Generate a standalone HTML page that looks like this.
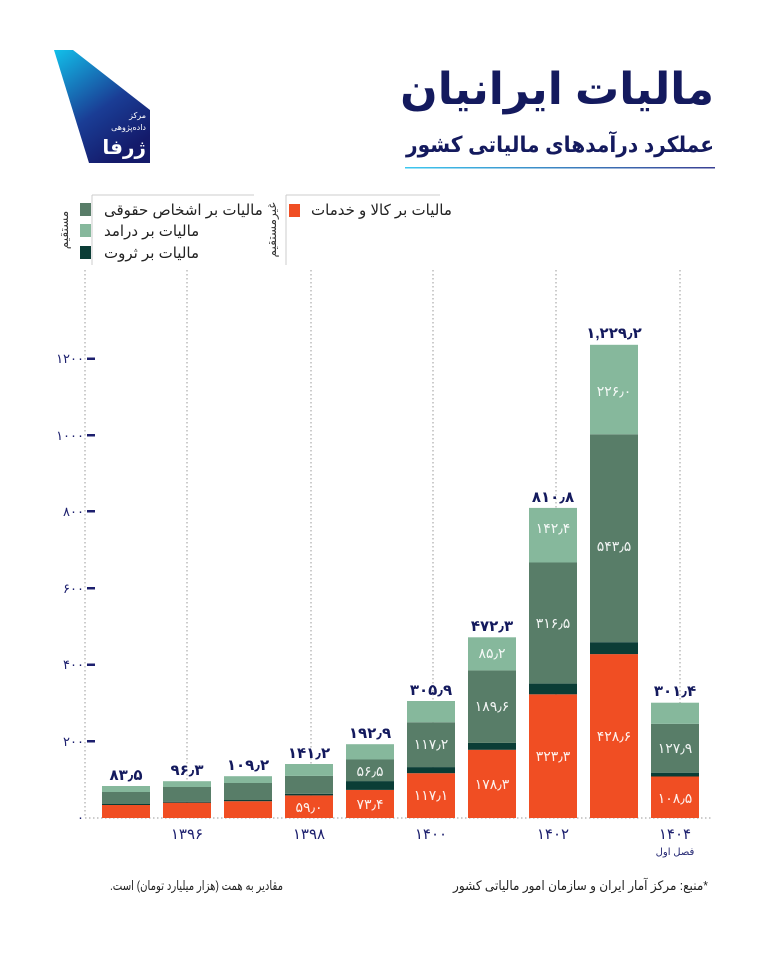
<!DOCTYPE html>
<html><head><meta charset="utf-8"><style>
html,body{margin:0;padding:0;background:#fff;}
svg{display:block;font-family:"Liberation Sans","Noto Sans CJK SC","DejaVu Sans",sans-serif;}
</style></head><body>
<svg width="768" height="960" viewBox="0 0 768 960" xmlns="http://www.w3.org/2000/svg">
<defs>
<linearGradient id="lg" x1="0" y1="0" x2="0.6" y2="1"><stop offset="0" stop-color="#12c0ea"/><stop offset="0.6" stop-color="#1a3d95"/><stop offset="1" stop-color="#141a6a"/></linearGradient>
<linearGradient id="ul" x1="0" y1="0" x2="1" y2="0"><stop offset="0" stop-color="#3dc8f0"/><stop offset="1" stop-color="#3a3f93"/></linearGradient>
</defs>
<polygon points="54,50 73,50 150,110 150,163 89,163" fill="url(#lg)"/>
<g direction="rtl" fill="#fff" text-anchor="start">
<text x="146" y="118" font-size="8">مرکز</text>
<text x="146" y="130" font-size="8">داده‌پژوهی</text>
<text x="146" y="154" font-size="20" font-weight="bold">ژرفا</text>
</g>
<g direction="rtl" fill="#141a5e" font-weight="bold" text-anchor="start">
<text x="714" y="104" font-size="44">مالیات ایرانیان</text>
<text x="714" y="152" font-size="22" textLength="308" lengthAdjust="spacingAndGlyphs">عملکرد درآمدهای مالیاتی کشور</text>
</g>
<rect x="405" y="167" width="310" height="1.5" fill="url(#ul)"/>
<!-- legend -->
<line x1="92" y1="195" x2="254" y2="195" stroke="#ccc"/><line x1="92" y1="195" x2="92" y2="265" stroke="#ccc"/>
<line x1="286" y1="195" x2="440" y2="195" stroke="#ccc"/><line x1="286" y1="195" x2="286" y2="265" stroke="#ccc"/>
<text transform="translate(68,230) rotate(-90)" font-size="12" fill="#333" text-anchor="middle">مستقیم</text>
<text transform="translate(276,230) rotate(-90)" font-size="12" fill="#333" text-anchor="middle">غیرمستقیم</text>
<rect x="80" y="203" width="11" height="13" fill="#587d68"/>
<rect x="80" y="224" width="11" height="13" fill="#86b89c"/>
<rect x="80" y="246" width="11" height="13" fill="#0b3d36"/>
<rect x="289" y="204" width="11" height="13" fill="#f04e23"/>
<g font-size="15" fill="#222" direction="rtl" text-anchor="end">
<text x="104" y="215">مالیات بر اشخاص حقوقی</text>
<text x="104" y="236">مالیات بر درامد</text>
<text x="104" y="258">مالیات بر ثروت</text>
<text x="311" y="215">مالیات بر کالا و خدمات</text>
</g>
<!-- grid -->
<g stroke="#999" stroke-dasharray="1.5,2.5" stroke-width="1">
<line x1="85" y1="270" x2="85" y2="818"/>
<line x1="187" y1="270" x2="187" y2="818"/>
<line x1="311" y1="270" x2="311" y2="818"/>
<line x1="433" y1="270" x2="433" y2="818"/>
<line x1="556" y1="270" x2="556" y2="818"/>
<line x1="680" y1="270" x2="680" y2="818"/>
<line x1="85" y1="818" x2="712" y2="818"/>
</g>
<g fill="#1c1f6e" font-size="13" text-anchor="end">
<rect x="87" y="357.5" width="8" height="2.5"/><text x="84" y="363">۱۲۰۰</text>
<rect x="87" y="434" width="8" height="2.5"/><text x="84" y="440">۱۰۰۰</text>
<rect x="87" y="510" width="8" height="2.5"/><text x="84" y="516">۸۰۰</text>
<rect x="87" y="587" width="8" height="2.5"/><text x="84" y="593">۶۰۰</text>
<rect x="87" y="663.5" width="8" height="2.5"/><text x="84" y="669">۴۰۰</text>
<rect x="87" y="740" width="8" height="2.5"/><text x="84" y="746">۲۰۰</text>
<text x="84" y="822">۰</text>
</g>
<g fill="#f04e23">
<rect x="102" y="805" width="48" height="13"/><rect x="163" y="802.7" width="48" height="15.3"/><rect x="224" y="801.2" width="48" height="16.8"/><rect x="285" y="795.4" width="48" height="22.6"/><rect x="346" y="789.9" width="48" height="28.1"/><rect x="407" y="773.2" width="48" height="44.8"/><rect x="468" y="749.8" width="48" height="68.2"/><rect x="529" y="694.3" width="48" height="123.7"/><rect x="590" y="654.1" width="48" height="163.9"/><rect x="651" y="776.5" width="48" height="41.5"/>
</g>
<g fill="#0b3d36">
<rect x="102" y="804" width="48" height="1"/><rect x="163" y="801.7" width="48" height="1"/><rect x="224" y="800" width="48" height="1.2"/><rect x="285" y="793.8" width="48" height="1.6"/><rect x="346" y="781.1" width="48" height="8.8"/><rect x="407" y="767.1" width="48" height="6.1"/><rect x="468" y="742.9" width="48" height="6.9"/><rect x="529" y="683.6" width="48" height="10.7"/><rect x="590" y="642.2" width="48" height="11.9"/><rect x="651" y="772.7" width="48" height="3.8"/>
</g>
<g fill="#587d68">
<rect x="102" y="792" width="48" height="12"/><rect x="163" y="787" width="48" height="14.7"/><rect x="224" y="783" width="48" height="17"/><rect x="285" y="775.9" width="48" height="17.9"/><rect x="346" y="759.5" width="48" height="21.6"/><rect x="407" y="722.3" width="48" height="44.8"/><rect x="468" y="670.4" width="48" height="72.5"/><rect x="529" y="562.5" width="48" height="121.1"/><rect x="590" y="434.3" width="48" height="207.9"/><rect x="651" y="723.8" width="48" height="48.9"/>
</g>
<g fill="#86b89c">
<rect x="102" y="786" width="48" height="6"/><rect x="163" y="781.2" width="48" height="5.8"/><rect x="224" y="776.2" width="48" height="6.8"/><rect x="285" y="764" width="48" height="11.9"/><rect x="346" y="744.2" width="48" height="15.3"/><rect x="407" y="701" width="48" height="21.3"/><rect x="468" y="637.3" width="48" height="33.1"/><rect x="529" y="507.9" width="48" height="54.6"/><rect x="590" y="344.8" width="48" height="89.5"/><rect x="651" y="702.7" width="48" height="21.1"/>
</g>
<g font-size="15" font-weight="bold" fill="#141a5e" text-anchor="middle">
<text x="126" y="780">۸۳٫۵</text><text x="187" y="775">۹۶٫۳</text><text x="248" y="770">۱۰۹٫۲</text><text x="309" y="758">۱۴۱٫۲</text><text x="370" y="738">۱۹۲٫۹</text><text x="431" y="695">۳۰۵٫۹</text><text x="492" y="631">۴۷۲٫۳</text><text x="553" y="502">۸۱۰٫۸</text><text x="614" y="338">۱,۲۲۹٫۲</text><text x="675" y="696">۳۰۱٫۴</text>
</g>
<g font-size="14" fill="#fff" text-anchor="middle" opacity="0.92">
<text x="309" y="812">۵۹٫۰</text><text x="370" y="809">۷۳٫۴</text><text x="370" y="776">۵۶٫۵</text>
<text x="431" y="800">۱۱۷٫۱</text><text x="431" y="749">۱۱۷٫۲</text>
<text x="492" y="789">۱۷۸٫۳</text><text x="492" y="711">۱۸۹٫۶</text><text x="492" y="658">۸۵٫۲</text>
<text x="553" y="761">۳۲۳٫۳</text><text x="553" y="628">۳۱۶٫۵</text><text x="553" y="533">۱۴۲٫۴</text>
<text x="614" y="741">۴۲۸٫۶</text><text x="614" y="551">۵۴۳٫۵</text><text x="614" y="396">۲۲۶٫۰</text>
<text x="675" y="803">۱۰۸٫۵</text><text x="675" y="753">۱۲۷٫۹</text>
</g>
<g font-size="15" fill="#1c1f6e" text-anchor="middle">
<text x="187" y="839">۱۳۹۶</text><text x="309" y="839">۱۳۹۸</text><text x="431" y="839">۱۴۰۰</text><text x="553" y="839">۱۴۰۲</text><text x="675" y="839">۱۴۰۴</text>
<text x="675" y="855" font-size="10">فصل اول</text>
</g>
<g font-size="13" fill="#222" direction="rtl">
<text x="283" y="890" text-anchor="start" textLength="173" lengthAdjust="spacingAndGlyphs">مقادیر به همت (هزار میلیارد تومان) است.</text>
<text x="708" y="890" text-anchor="start" textLength="255" lengthAdjust="spacingAndGlyphs">*منبع: مرکز آمار ایران و سازمان امور مالیاتی کشور</text>
</g>
</svg>
</body></html>
